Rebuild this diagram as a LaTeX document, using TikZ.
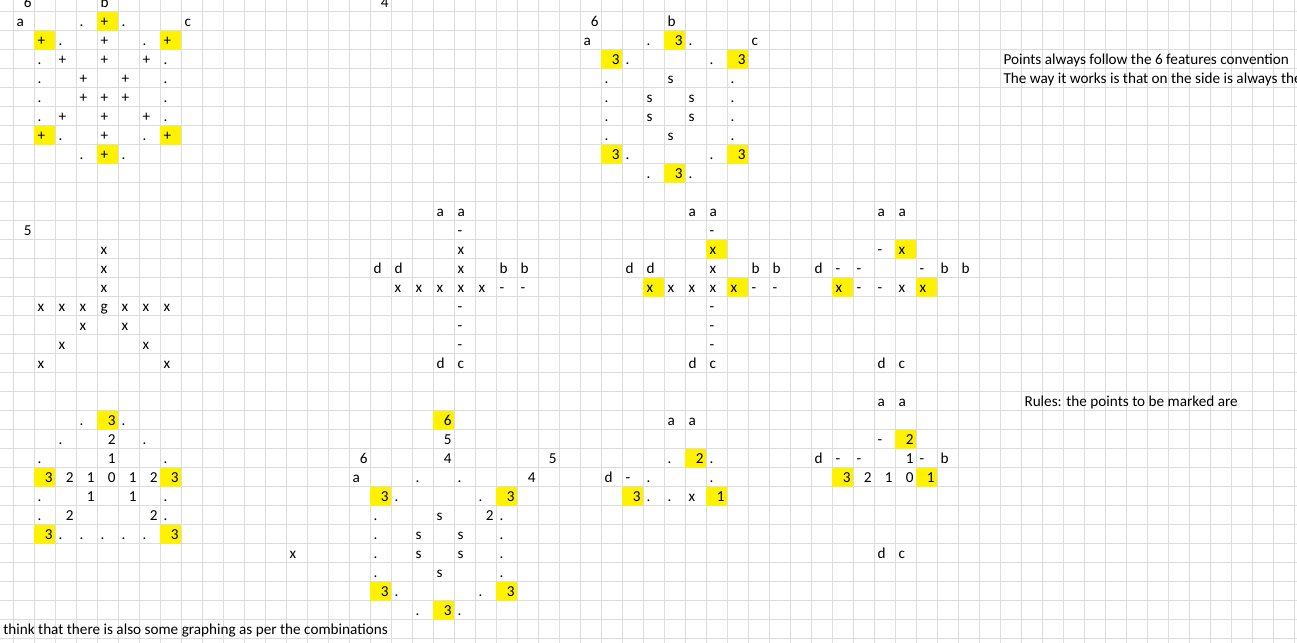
\documentclass[tikz,border=0pt]{standalone}
\usepackage{fontspec}
\setmainfont{Carlito}
\definecolor{gridgray}{RGB}{218,220,224}
\tikzset{
  sheet/.style={x=15.75pt, y=-14.25pt, font=\fontsize{11.4}{13}\selectfont},
  gridline/.style={draw=gridgray, line width=0.75pt},
  hicell/.style={fill=yellow},
  lt/.style={anchor=base west, inner sep=0pt},
  rt/.style={anchor=base east, inner sep=0pt}
}
\begin{document}
\begin{tikzpicture}[sheet]
  \useasboundingbox (-0.6333,-0.6158) rectangle (61.129,33.174);
  \clip (-0.6333,-0.6158) rectangle (61.129,33.174);
  \fill[white] (-0.6333,-0.6158) rectangle (61.129,33.174);
  % sheet grid
  \foreach \i in {0,...,61}
    \draw[gridline] (\i,-0.7) -- (\i,33.3);
  \foreach \j in {0,...,33}
    \draw[gridline] (-0.7,\j) -- (61.2,\j);
  % marked cells
  \foreach \c/\r in {4/0, 1/1, 7/1, 1/6, 7/6, 4/7,
      31/1, 28/2, 34/2, 28/7, 34/7, 31/8,
      33/12, 30/14, 34/14, 42/12, 39/14, 43/14,
      4/21, 1/24, 7/24, 1/27, 7/27,
      20/21, 17/25, 23/25, 17/30, 23/30, 20/31,
      32/23, 29/25, 33/25, 42/22, 39/24, 43/24}
    \fill[hicell] (\c,\r) rectangle +(1,1);
  % text cells
  \foreach \c/\r/\txt in {4/-1/b,
      0/0/a, 3/0/., 4/0/+, 5/0/., 8/0/c,
      1/1/+, 2/1/., 4/1/+, 6/1/., 7/1/+,
      1/2/., 2/2/+, 4/2/+, 6/2/+, 7/2/.,
      1/3/., 3/3/+, 5/3/+, 7/3/.,
      1/4/., 3/4/+, 4/4/+, 5/4/+, 7/4/.,
      1/5/., 2/5/+, 4/5/+, 6/5/+, 7/5/.,
      1/6/+, 2/6/., 4/6/+, 6/6/., 7/6/+,
      3/7/., 4/7/+, 5/7/.,
      31/0/b, 27/1/a, 30/1/., 32/1/., 35/1/c,
      29/2/., 33/2/.,
      28/3/., 31/3/s, 34/3/.,
      28/4/., 30/4/s, 32/4/s, 34/4/.,
      28/5/., 30/5/s, 32/5/s, 34/5/.,
      28/6/., 31/6/s, 34/6/.,
      29/7/., 33/7/.,
      30/8/., 32/8/.,
      4/12/x, 4/13/x, 4/14/x,
      1/15/x, 2/15/x, 3/15/x, 4/15/g, 5/15/x, 6/15/x, 7/15/x,
      3/16/x, 5/16/x, 2/17/x, 6/17/x, 1/18/x, 7/18/x,
      20/10/a, 21/10/a, 21/11/-, 21/12/x,
      17/13/d, 18/13/d, 21/13/x, 23/13/b, 24/13/b,
      18/14/x, 19/14/x, 20/14/x, 21/14/x, 22/14/x, 23/14/-, 24/14/-,
      21/15/-, 21/16/-, 21/17/-, 20/18/d, 21/18/c,
      32/10/a, 33/10/a, 33/11/-, 33/12/x,
      29/13/d, 30/13/d, 33/13/x, 35/13/b, 36/13/b,
      30/14/x, 31/14/x, 32/14/x, 33/14/x, 34/14/x, 35/14/-, 36/14/-,
      33/15/-, 33/16/-, 33/17/-, 32/18/d, 33/18/c,
      41/10/a, 42/10/a, 41/12/-, 42/12/x,
      38/13/d, 39/13/-, 40/13/-, 43/13/-, 44/13/b, 45/13/b,
      39/14/x, 40/14/-, 41/14/-, 42/14/x, 43/14/x,
      41/18/d, 42/18/c,
      3/21/., 5/21/., 2/22/., 6/22/., 1/23/., 7/23/.,
      1/25/., 7/25/., 1/26/., 7/26/.,
      2/27/., 3/27/., 4/27/., 5/27/., 6/27/.,
      16/24/a, 19/24/., 21/24/., 18/25/., 22/25/.,
      17/26/., 20/26/s, 23/26/.,
      17/27/., 19/27/s, 21/27/s, 23/27/.,
      13/28/x, 17/28/., 19/28/s, 21/28/s, 23/28/.,
      17/29/., 20/29/s, 23/29/.,
      18/30/., 22/30/., 19/31/., 21/31/.,
      31/21/a, 32/21/a, 31/23/., 33/23/.,
      28/24/d, 29/24/-, 30/24/., 33/24/.,
      30/25/., 31/25/., 32/25/x,
      41/20/a, 42/20/a, 41/22/-,
      38/23/d, 39/23/-, 40/23/-, 43/23/-, 44/23/b,
      41/28/d, 42/28/c}
    \node[lt] (L-\c-\r) at (\c+0.14,\r+0.77) {\txt};
  % number cells
  \foreach \c/\r/\txt in {0/-1/6, 17/-1/4, 27/0/6,
      31/1/3, 28/2/3, 34/2/3, 28/7/3, 34/7/3, 31/8/3,
      0/11/5,
      4/21/3, 4/22/2, 4/23/1,
      1/24/3, 2/24/2, 3/24/1, 4/24/0, 5/24/1, 6/24/2, 7/24/3,
      3/25/1, 5/25/1, 2/26/2, 6/26/2, 1/27/3, 7/27/3,
      20/21/6, 20/22/5, 16/23/6, 20/23/4, 25/23/5, 24/24/4,
      17/25/3, 23/25/3, 22/26/2, 17/30/3, 23/30/3, 20/31/3,
      32/23/2, 29/25/3, 33/25/1,
      42/22/2, 42/23/1, 39/24/3, 40/24/2, 41/24/1, 42/24/0, 43/24/1}
    \node[rt] (R-\c-\r) at (\c+0.88,\r+0.77) {\txt};
  % notes
  \node[lt] (note1) at (47.14,2.77) {Points always follow the 6 features convention};
  \node[lt] (note2) at (47.14,3.77) {The way it works is that on the side is always the};
  \node[lt] (rules) at (48.14,20.77) {Rules: the points to be marked are};
  \node[lt] (note3) at (-0.49,32.77) {think that there is also some graphing as per the combinations};
\end{tikzpicture}
\end{document}
